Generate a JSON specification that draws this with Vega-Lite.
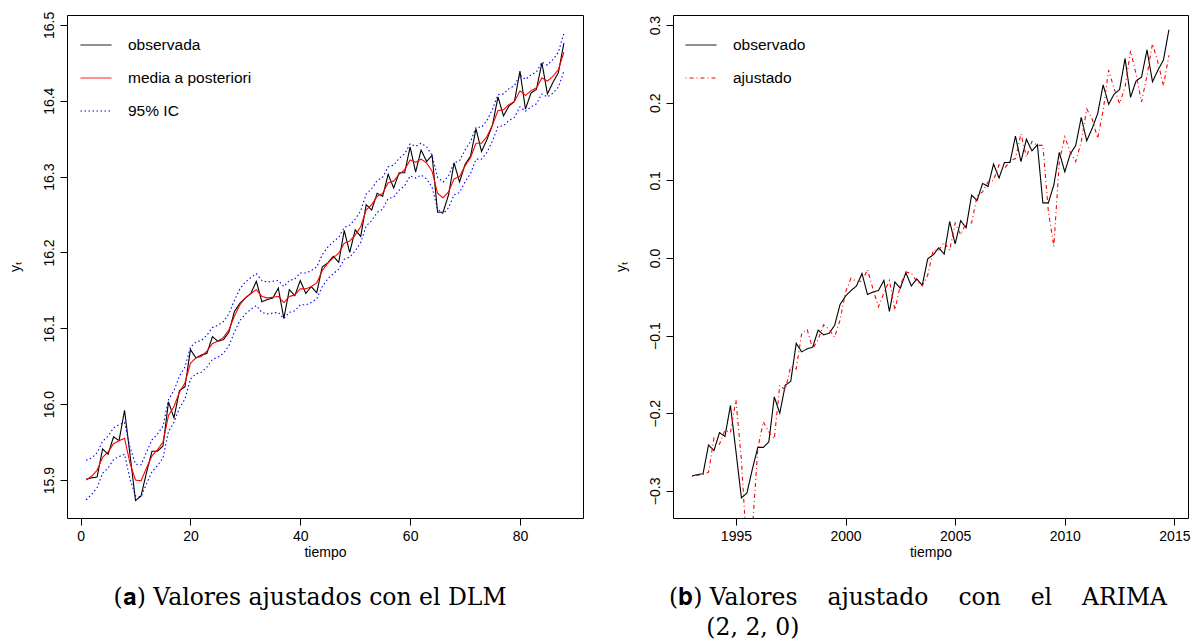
{
"$schema": "https://vega.github.io/schema/vega-lite/v6.json",
"padding": {"left": 7, "top": 10, "right": 6, "bottom": 5},
"background": "white",
"bounds": "flush",
"spacing": 90,
"resolve": {"scale": {"color": "independent", "strokeDash": "independent", "x": "independent", "y": "independent"}, "legend": {"color": "independent", "strokeDash": "independent"}},
"config": {
  "view": {"stroke": "black", "strokeWidth": 1},
  "axis": {"grid": false, "domain": false, "tickColor": "black", "tickSize": 7, "labelColor": "black", "labelFont": "Liberation Sans", "labelFontSize": 14, "titleFont": "Liberation Sans", "titleFontSize": 14, "titleFontWeight": "normal", "titleColor": "black", "labelPadding": 4},
  "axisY": {"labelAngle": 270, "labelAlign": "center", "labelBaseline": "bottom", "titlePadding": 20},
  "axisX": {"titlePadding": 2},
  "legend": {"orient": "none", "title": null, "symbolType": "stroke", "symbolSize": 961, "symbolStrokeWidth": 1, "labelFont": "Liberation Sans", "labelFontSize": 15.5, "labelColor": "black", "rowPadding": 8, "labelOffset": 16, "padding": 0},
  "title": {"font": "DejaVu Serif", "fontSize": 23.5, "fontWeight": "normal", "color": "black", "orient": "bottom", "lineHeight": 30, "frame": "group"}
},
"datasets": {
"dlm": [
{"t":1,"obs":15.901,"media":15.900,"lo":15.874,"hi":15.926},
{"t":2,"obs":15.903,"media":15.905,"lo":15.881,"hi":15.929},
{"t":3,"obs":15.904,"media":15.913,"lo":15.890,"hi":15.936},
{"t":4,"obs":15.941,"media":15.930,"lo":15.909,"hi":15.951},
{"t":5,"obs":15.934,"media":15.937,"lo":15.916,"hi":15.958},
{"t":6,"obs":15.957,"media":15.948,"lo":15.927,"hi":15.969},
{"t":7,"obs":15.952,"media":15.952,"lo":15.931,"hi":15.973},
{"t":8,"obs":15.992,"media":15.955,"lo":15.934,"hi":15.976},
{"t":9,"obs":15.933,"media":15.922,"lo":15.901,"hi":15.943},
{"t":10,"obs":15.873,"media":15.900,"lo":15.879,"hi":15.921},
{"t":11,"obs":15.879,"media":15.899,"lo":15.878,"hi":15.920},
{"t":12,"obs":15.910,"media":15.916,"lo":15.895,"hi":15.937},
{"t":13,"obs":15.938,"media":15.932,"lo":15.911,"hi":15.953},
{"t":14,"obs":15.938,"media":15.940,"lo":15.919,"hi":15.961},
{"t":15,"obs":15.945,"media":15.950,"lo":15.929,"hi":15.971},
{"t":16,"obs":16.003,"media":15.985,"lo":15.964,"hi":16.006},
{"t":17,"obs":15.982,"media":15.997,"lo":15.976,"hi":16.018},
{"t":18,"obs":16.018,"media":16.016,"lo":15.995,"hi":16.037},
{"t":19,"obs":16.023,"media":16.028,"lo":16.007,"hi":16.049},
{"t":20,"obs":16.072,"media":16.054,"lo":16.033,"hi":16.075},
{"t":21,"obs":16.061,"media":16.061,"lo":16.040,"hi":16.082},
{"t":22,"obs":16.065,"media":16.063,"lo":16.042,"hi":16.084},
{"t":23,"obs":16.067,"media":16.070,"lo":16.049,"hi":16.091},
{"t":24,"obs":16.089,"media":16.080,"lo":16.059,"hi":16.101},
{"t":25,"obs":16.083,"media":16.083,"lo":16.062,"hi":16.104},
{"t":26,"obs":16.085,"media":16.088,"lo":16.067,"hi":16.109},
{"t":27,"obs":16.095,"media":16.098,"lo":16.077,"hi":16.119},
{"t":28,"obs":16.122,"media":16.116,"lo":16.095,"hi":16.137},
{"t":29,"obs":16.133,"media":16.131,"lo":16.110,"hi":16.152},
{"t":30,"obs":16.140,"media":16.140,"lo":16.119,"hi":16.161},
{"t":31,"obs":16.146,"media":16.146,"lo":16.125,"hi":16.167},
{"t":32,"obs":16.162,"media":16.151,"lo":16.130,"hi":16.172},
{"t":33,"obs":16.135,"media":16.142,"lo":16.121,"hi":16.163},
{"t":34,"obs":16.138,"media":16.140,"lo":16.119,"hi":16.161},
{"t":35,"obs":16.140,"media":16.141,"lo":16.120,"hi":16.162},
{"t":36,"obs":16.153,"media":16.142,"lo":16.121,"hi":16.163},
{"t":37,"obs":16.113,"media":16.134,"lo":16.113,"hi":16.155},
{"t":38,"obs":16.151,"media":16.142,"lo":16.121,"hi":16.163},
{"t":39,"obs":16.143,"media":16.144,"lo":16.123,"hi":16.165},
{"t":40,"obs":16.163,"media":16.152,"lo":16.131,"hi":16.173},
{"t":41,"obs":16.146,"media":16.152,"lo":16.131,"hi":16.173},
{"t":42,"obs":16.155,"media":16.155,"lo":16.134,"hi":16.176},
{"t":43,"obs":16.147,"media":16.160,"lo":16.139,"hi":16.181},
{"t":44,"obs":16.181,"media":16.176,"lo":16.155,"hi":16.197},
{"t":45,"obs":16.186,"media":16.186,"lo":16.165,"hi":16.207},
{"t":46,"obs":16.195,"media":16.193,"lo":16.172,"hi":16.214},
{"t":47,"obs":16.187,"media":16.199,"lo":16.178,"hi":16.220},
{"t":48,"obs":16.229,"media":16.212,"lo":16.191,"hi":16.233},
{"t":49,"obs":16.200,"media":16.215,"lo":16.194,"hi":16.236},
{"t":50,"obs":16.230,"media":16.223,"lo":16.202,"hi":16.244},
{"t":51,"obs":16.221,"media":16.234,"lo":16.213,"hi":16.255},
{"t":52,"obs":16.263,"media":16.256,"lo":16.235,"hi":16.277},
{"t":53,"obs":16.256,"media":16.263,"lo":16.242,"hi":16.284},
{"t":54,"obs":16.278,"media":16.274,"lo":16.253,"hi":16.295},
{"t":55,"obs":16.274,"media":16.278,"lo":16.257,"hi":16.299},
{"t":56,"obs":16.303,"media":16.292,"lo":16.271,"hi":16.313},
{"t":57,"obs":16.285,"media":16.294,"lo":16.273,"hi":16.315},
{"t":58,"obs":16.305,"media":16.303,"lo":16.282,"hi":16.324},
{"t":59,"obs":16.305,"media":16.309,"lo":16.288,"hi":16.330},
{"t":60,"obs":16.339,"media":16.322,"lo":16.301,"hi":16.343},
{"t":61,"obs":16.306,"media":16.319,"lo":16.298,"hi":16.340},
{"t":62,"obs":16.335,"media":16.323,"lo":16.302,"hi":16.344},
{"t":63,"obs":16.320,"media":16.318,"lo":16.297,"hi":16.339},
{"t":64,"obs":16.328,"media":16.307,"lo":16.286,"hi":16.328},
{"t":65,"obs":16.253,"media":16.278,"lo":16.257,"hi":16.299},
{"t":66,"obs":16.253,"media":16.272,"lo":16.251,"hi":16.293},
{"t":67,"obs":16.276,"media":16.280,"lo":16.259,"hi":16.301},
{"t":68,"obs":16.318,"media":16.297,"lo":16.276,"hi":16.318},
{"t":69,"obs":16.293,"media":16.300,"lo":16.279,"hi":16.321},
{"t":70,"obs":16.316,"media":16.314,"lo":16.293,"hi":16.335},
{"t":71,"obs":16.327,"media":16.325,"lo":16.304,"hi":16.346},
{"t":72,"obs":16.363,"media":16.344,"lo":16.323,"hi":16.365},
{"t":73,"obs":16.333,"media":16.344,"lo":16.323,"hi":16.365},
{"t":74,"obs":16.349,"media":16.353,"lo":16.332,"hi":16.374},
{"t":75,"obs":16.368,"media":16.368,"lo":16.347,"hi":16.389},
{"t":76,"obs":16.405,"media":16.387,"lo":16.366,"hi":16.408},
{"t":77,"obs":16.380,"media":16.388,"lo":16.367,"hi":16.409},
{"t":78,"obs":16.393,"media":16.395,"lo":16.374,"hi":16.416},
{"t":79,"obs":16.399,"media":16.399,"lo":16.378,"hi":16.420},
{"t":80,"obs":16.439,"media":16.413,"lo":16.392,"hi":16.434},
{"t":81,"obs":16.389,"media":16.407,"lo":16.386,"hi":16.428},
{"t":82,"obs":16.410,"media":16.413,"lo":16.392,"hi":16.434},
{"t":83,"obs":16.415,"media":16.417,"lo":16.396,"hi":16.438},
{"t":84,"obs":16.450,"media":16.430,"lo":16.409,"hi":16.451},
{"t":85,"obs":16.409,"media":16.426,"lo":16.405,"hi":16.447},
{"t":86,"obs":16.424,"media":16.432,"lo":16.410,"hi":16.454},
{"t":87,"obs":16.437,"media":16.441,"lo":16.418,"hi":16.464},
{"t":88,"obs":16.476,"media":16.464,"lo":16.439,"hi":16.489}
],
"arima": [
{"year":1993,"obs":-0.281,"fit":-0.281},
{"year":1993.25,"obs":-0.279,"fit":-0.280},
{"year":1993.5,"obs":-0.278,"fit":-0.279},
{"year":1993.75,"obs":-0.241,"fit":-0.276},
{"year":1994,"obs":-0.248,"fit":-0.232},
{"year":1994.25,"obs":-0.225,"fit":-0.240},
{"year":1994.5,"obs":-0.230,"fit":-0.222},
{"year":1994.75,"obs":-0.190,"fit":-0.225},
{"year":1995,"obs":-0.249,"fit":-0.183},
{"year":1995.25,"obs":-0.309,"fit":-0.260},
{"year":1995.5,"obs":-0.303,"fit":-0.380},
{"year":1995.75,"obs":-0.272,"fit":-0.350},
{"year":1996,"obs":-0.244,"fit":-0.245},
{"year":1996.25,"obs":-0.244,"fit":-0.211},
{"year":1996.5,"obs":-0.237,"fit":-0.224},
{"year":1996.75,"obs":-0.179,"fit":-0.233},
{"year":1997,"obs":-0.200,"fit":-0.164},
{"year":1997.25,"obs":-0.164,"fit":-0.170},
{"year":1997.5,"obs":-0.159,"fit":-0.140},
{"year":1997.75,"obs":-0.110,"fit":-0.143},
{"year":1998,"obs":-0.121,"fit":-0.097},
{"year":1998.25,"obs":-0.117,"fit":-0.092},
{"year":1998.5,"obs":-0.115,"fit":-0.117},
{"year":1998.75,"obs":-0.093,"fit":-0.105},
{"year":1999,"obs":-0.099,"fit":-0.086},
{"year":1999.25,"obs":-0.097,"fit":-0.092},
{"year":1999.5,"obs":-0.087,"fit":-0.102},
{"year":1999.75,"obs":-0.060,"fit":-0.080},
{"year":2000,"obs":-0.049,"fit":-0.044},
{"year":2000.25,"obs":-0.042,"fit":-0.026},
{"year":2000.5,"obs":-0.036,"fit":-0.030},
{"year":2000.75,"obs":-0.020,"fit":-0.030},
{"year":2001,"obs":-0.047,"fit":-0.015},
{"year":2001.25,"obs":-0.044,"fit":-0.040},
{"year":2001.5,"obs":-0.042,"fit":-0.063},
{"year":2001.75,"obs":-0.029,"fit":-0.045},
{"year":2002,"obs":-0.069,"fit":-0.029},
{"year":2002.25,"obs":-0.031,"fit":-0.067},
{"year":2002.5,"obs":-0.039,"fit":-0.035},
{"year":2002.75,"obs":-0.019,"fit":-0.018},
{"year":2003,"obs":-0.036,"fit":-0.020},
{"year":2003.25,"obs":-0.027,"fit":-0.030},
{"year":2003.5,"obs":-0.035,"fit":-0.036},
{"year":2003.75,"obs":-0.001,"fit":-0.022},
{"year":2004,"obs":0.004,"fit":0.010},
{"year":2004.25,"obs":0.013,"fit":0.010},
{"year":2004.5,"obs":0.005,"fit":0.020},
{"year":2004.75,"obs":0.047,"fit":0.010},
{"year":2005,"obs":0.018,"fit":0.045},
{"year":2005.25,"obs":0.048,"fit":0.030},
{"year":2005.5,"obs":0.039,"fit":0.045},
{"year":2005.75,"obs":0.081,"fit":0.045},
{"year":2006,"obs":0.074,"fit":0.080},
{"year":2006.25,"obs":0.096,"fit":0.085},
{"year":2006.5,"obs":0.092,"fit":0.098},
{"year":2006.75,"obs":0.121,"fit":0.100},
{"year":2007,"obs":0.103,"fit":0.120},
{"year":2007.25,"obs":0.123,"fit":0.115},
{"year":2007.5,"obs":0.123,"fit":0.125},
{"year":2007.75,"obs":0.157,"fit":0.128},
{"year":2008,"obs":0.124,"fit":0.160},
{"year":2008.25,"obs":0.153,"fit":0.130},
{"year":2008.5,"obs":0.138,"fit":0.150},
{"year":2008.75,"obs":0.146,"fit":0.145},
{"year":2009,"obs":0.071,"fit":0.145},
{"year":2009.25,"obs":0.071,"fit":0.060},
{"year":2009.5,"obs":0.094,"fit":0.015},
{"year":2009.75,"obs":0.136,"fit":0.124},
{"year":2010,"obs":0.111,"fit":0.156},
{"year":2010.25,"obs":0.134,"fit":0.136},
{"year":2010.5,"obs":0.145,"fit":0.124},
{"year":2010.75,"obs":0.181,"fit":0.150},
{"year":2011,"obs":0.151,"fit":0.192},
{"year":2011.25,"obs":0.167,"fit":0.179},
{"year":2011.5,"obs":0.186,"fit":0.154},
{"year":2011.75,"obs":0.223,"fit":0.190},
{"year":2012,"obs":0.198,"fit":0.242},
{"year":2012.25,"obs":0.211,"fit":0.218},
{"year":2012.5,"obs":0.217,"fit":0.199},
{"year":2012.75,"obs":0.257,"fit":0.220},
{"year":2013,"obs":0.207,"fit":0.267},
{"year":2013.25,"obs":0.228,"fit":0.237},
{"year":2013.5,"obs":0.233,"fit":0.201},
{"year":2013.75,"obs":0.268,"fit":0.235},
{"year":2014,"obs":0.227,"fit":0.276},
{"year":2014.25,"obs":0.242,"fit":0.252},
{"year":2014.5,"obs":0.255,"fit":0.222},
{"year":2014.75,"obs":0.294,"fit":0.261}
]
},
"hconcat": [
{
  "width": 516, "height": 503,
  "title": {"text": "(𝐚) Valores ajustados con el DLM", "anchor": "middle", "dx": -15, "offset": 27},
  "data": {"name": "dlm"},
  "transform": [{"fold": ["obs", "media", "lo", "hi"], "as": ["serie", "valor"]}],
  "mark": {"type": "line", "clip": true, "strokeWidth": 1.1},
  "encoding": {
    "x": {"field": "t", "type": "quantitative", "scale": {"domain": [-2.48, 91.48], "nice": false, "zero": false}, "axis": {"values": [0, 20, 40, 60, 80], "title": "tiempo"}},
    "y": {"field": "valor", "type": "quantitative", "scale": {"domain": [15.85, 16.513], "nice": false, "zero": false}, "axis": {"values": [15.9, 16.0, 16.1, 16.2, 16.3, 16.4, 16.5], "format": ".1f", "title": "yₜ"}},
    "color": {"field": "serie", "type": "nominal", "scale": {"domain": ["obs", "media", "lo", "hi"], "range": ["black", "red", "blue", "blue"]},
      "legend": {"legendX": 13, "legendY": 14, "values": ["obs", "media", "lo"], "labelExpr": "datum.value == 'obs' ? 'observada' : datum.value == 'media' ? 'media a posteriori' : '95% IC'"}},
    "strokeDash": {"field": "serie", "type": "nominal", "scale": {"domain": ["obs", "media", "lo", "hi"], "range": [[1, 0], [1, 0], [1.5, 2.5], [1.5, 2.5]]},
      "legend": {"legendX": 13, "legendY": 14, "values": ["obs", "media", "lo"], "labelExpr": "datum.value == 'obs' ? 'observada' : datum.value == 'media' ? 'media a posteriori' : '95% IC'"}}
  }
},
{
  "width": 515, "height": 503,
  "title": {"text": ["(𝐛) Valores\u00a0\u00a0\u00a0\u00a0ajustado\u00a0\u00a0\u00a0\u00a0con\u00a0\u00a0\u00a0\u00a0el\u00a0\u00a0\u00a0\u00a0ARIMA", "\u200b\u00a0\u00a0\u00a0\u00a0\u00a0(2, 2, 0)"], "anchor": "start", "dx": -4, "offset": 27},
  "data": {"name": "arima"},
  "transform": [{"fold": ["obs", "fit"], "as": ["serie", "valor"]}],
  "mark": {"type": "line", "clip": true, "strokeWidth": 1.1},
  "encoding": {
    "x": {"field": "year", "type": "quantitative", "scale": {"domain": [1992.13, 2015.62], "nice": false, "zero": false}, "axis": {"values": [1995, 2000, 2005, 2010, 2015], "format": "d", "title": "tiempo"}},
    "y": {"field": "valor", "type": "quantitative", "scale": {"domain": [-0.335, 0.313], "nice": false, "zero": false}, "axis": {"values": [-0.3, -0.2, -0.1, 0.0, 0.1, 0.2, 0.3], "format": ".1f", "title": "yₜ"}},
    "color": {"field": "serie", "type": "nominal", "scale": {"domain": ["obs", "fit"], "range": ["black", "red"]},
      "legend": {"legendX": 12, "legendY": 14, "labelExpr": "datum.value == 'obs' ? 'observado' : 'ajustado'"}},
    "strokeDash": {"field": "serie", "type": "nominal", "scale": {"domain": ["obs", "fit"], "range": [[1, 0], [1, 3, 4, 3]]},
      "legend": {"legendX": 12, "legendY": 14, "labelExpr": "datum.value == 'obs' ? 'observado' : 'ajustado'"}}
  }
}
]
}
